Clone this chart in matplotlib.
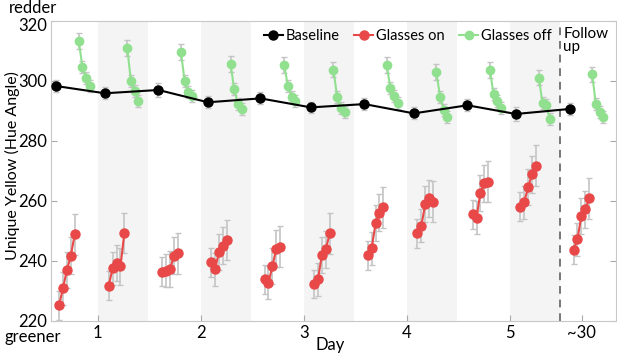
import numpy as np
import matplotlib.pyplot as plt
import matplotlib.transforms as mtransforms
from matplotlib.lines import Line2D

plt.rcParams['font.family'] = ['Lato', 'DejaVu Sans']

# session positions (day units) and within-session measurement offsets
base_x = [0.60, 1.07, 1.59, 2.07, 2.58, 3.07, 3.59, 4.07, 4.59, 5.06, 5.59]
base_y = [298.2, 295.8, 296.9, 292.8, 294.1, 291.1, 292.2, 289.1, 291.8, 288.9, 290.6]
base_err = [2.0, 2.0, 2.2, 2.0, 2.0, 1.8, 2.0, 2.0, 2.0, 2.2, 2.0]

red_x0 = [0.625, 1.107, 1.627, 2.102, 2.620, 3.101, 3.622, 4.104, 4.640, 5.103, 5.620]
red_dt = [0.0, 0.038, 0.076, 0.114, 0.152]
red_y = [
    [225.1, 230.8, 236.9, 241.6, 248.8],
    [231.7, 237.4, 239.2, 238.1, 249.2],
    [236.3, 236.7, 237.2, 241.7, 242.4],
    [239.5, 237.2, 243.0, 245.0, 246.9],
    [233.8, 232.7, 238.1, 244.0, 244.7],
    [232.2, 233.8, 242.0, 243.8, 249.1],
    [241.8, 244.1, 252.5, 256.0, 257.8],
    [249.1, 251.6, 258.8, 260.8, 259.7],
    [255.5, 254.3, 262.7, 265.8, 266.3],
    [258.0, 259.5, 264.5, 268.8, 271.7],
    [243.6, 247.1, 255.0, 257.1, 260.8],
]
red_err = [4.8, 5.5, 6.0, 6.2, 6.8]

green_x0 = [0.816, 1.287, 1.808, 2.290, 2.810, 3.289, 3.806, 4.288, 4.808, 5.283, 5.801]
green_dt = [0.0, 0.036, 0.072, 0.108]
green_y = [
    [313.3, 304.5, 301.0, 298.1],
    [310.8, 299.8, 296.6, 293.3],
    [309.5, 300.0, 296.1, 294.8],
    [305.6, 297.1, 292.1, 290.6],
    [305.3, 298.3, 294.6, 293.1],
    [303.7, 294.5, 290.9, 289.6],
    [305.2, 297.5, 294.9, 292.6],
    [302.9, 294.7, 290.2, 288.0],
    [303.6, 295.4, 293.2, 290.8],
    [301.0, 292.5, 291.8, 287.1],
    [302.1, 292.1, 289.7, 287.9],
]
green_err = [2.6, 2.0, 2.0, 2.0]

days = [1, 2, 3, 4, 5]
xtick_pos = [1, 2, 3, 4, 5, 5.70]
xtick_lab = ['1', '2', '3', '4', '5', '~30']

red = '#e84848'
green = '#90e090'
errc = '#c4c4c4'

fig = plt.figure(figsize=(6.17, 3.56), dpi=100)
ax = fig.add_axes([0.0827, 0.0992, 0.9153, 0.8427])

for d in days:
    ax.axvspan(d, d + 0.49, color='#f4f4f4', lw=0, zorder=0)
ax.axvline(5.49, color='#777777', ls=(0, (4, 3)), lw=1.4, zorder=1)

for i in range(len(base_x)):
    rx = [red_x0[i] + t for t in red_dt]
    ax.errorbar(rx, red_y[i], yerr=red_err, fmt='none', ecolor=errc, elinewidth=1.2,
                capsize=2, capthick=1, zorder=2)
    ax.plot(rx, red_y[i], '-o', color=red, ms=6.5, lw=1.5, zorder=3)
    gx = [green_x0[i] + t for t in green_dt]
    ax.errorbar(gx, green_y[i], yerr=green_err, fmt='none', ecolor=errc, elinewidth=1.2,
                capsize=2, capthick=1, zorder=2)
    ax.plot(gx, green_y[i], '-o', color=green, ms=6, lw=1.5, zorder=3)

ax.errorbar(base_x, base_y, yerr=base_err, fmt='none', ecolor=errc, elinewidth=1.2,
            capsize=2, capthick=1, zorder=2)
ax.plot(base_x, base_y, '-o', color='black', ms=6.5, lw=1.5, zorder=4)

ax.set_xlim(0.547, 6.03)
ax.set_ylim(220, 320)
ax.set_yticks([220, 240, 260, 280, 300, 320])
ax.set_xticks(xtick_pos)
ax.set_xticklabels(xtick_lab)
ax.tick_params(direction='in', right=True, labelsize=12, color='#aaaaaa', length=4, pad=3)
for s in ax.spines.values():
    s.set_color('#c8c8c8')

# top tick label sits a little lower in the original
lab320 = ax.get_yticklabels()[-1]
lab320.set_transform(lab320.get_transform() +
                     mtransforms.ScaledTranslation(0, -4 / 100, fig.dpi_scale_trans))

handles = [Line2D([], [], color='black', marker='o', ms=6.5, lw=1.5),
           Line2D([], [], color=red, marker='o', ms=6.5, lw=1.5),
           Line2D([], [], color=green, marker='o', ms=6, lw=1.5)]
ax.legend(handles, ['Baseline', 'Glasses on', 'Glasses off'], ncol=3, frameon=False,
          loc='center', bbox_to_anchor=(0.632, 0.949), fontsize=10.5,
          handlelength=1.3, handletextpad=0.2, columnspacing=1.0)

ax.text(5.52, 313.5, 'Follow\nup', fontsize=11, ha='left', va='center', linespacing=0.9)

fig.text(12 / 617, 1 - 166 / 356, 'Unique Yellow (Hue Angle)', rotation=90, fontsize=11.5,
         ha='center', va='center')
fig.text(33 / 617, 1 - 8 / 356, 'redder', fontsize=12, ha='center', va='center')
fig.text(33 / 617, 1 - 337 / 356, 'greener', fontsize=12, ha='center', va='center')
fig.text(330 / 617, 1 - 345 / 356, 'Day', fontsize=12, ha='center', va='center')

fig.savefig('out.png', dpi=100)
